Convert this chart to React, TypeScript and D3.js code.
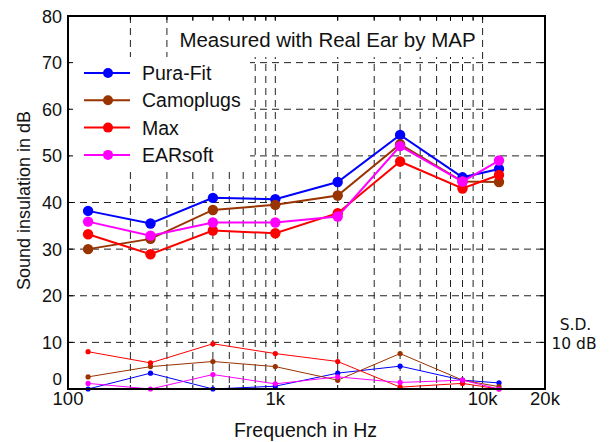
import React from 'react';
import * as d3 from 'd3';

const freqs = [125, 250, 500, 1000, 2000, 4000, 8000, 12000];

const seriesNames = ['Pura-Fit', 'Camoplugs', 'Max', 'EARsoft'];
const seriesColors = ['#0000ff', '#993300', '#ff0000', '#ff00ff'];

const puraFit = [38.2, 35.5, 41.0, 40.7, 44.4, 54.5, 45.4, 47.2];
const camoplugs = [30.0, 32.2, 38.4, 39.5, 41.5, 52.5, 44.5, 44.4];
const maxVals = [33.2, 28.9, 34.0, 33.4, 37.7, 48.8, 43.0, 45.9];
const earsoft = [35.9, 32.9, 35.7, 35.7, 37.0, 52.1, 44.5, 49.0];

// standard deviations
const puraFitSD = [0, 3.4, 0, 0.6, 3.4, 4.9, 1.9, 1.3];
const camoplugsSD = [2.6, 4.8, 5.9, 4.8, 1.9, 7.6, 1.9, 0.5];
const maxSD = [8.0, 5.6, 9.7, 7.6, 5.9, 0.4, 1.2, 0];
const earsoftSD = [1.2, 0, 3.1, 1.1, 2.6, 1.4, 1.9, 0];

const yTicks = [0, 10, 20, 30, 40, 50, 60, 70, 80];
const xTickLabels: [number, string][] = [[100, '100'], [1000, '1k'], [10000, '10k'], [20000, '20k']];
const xGrid = [200, 300, 400, 500, 600, 700, 800, 900, 1000, 2000, 3000, 4000, 5000, 6000, 7000, 8000, 9000, 10000];

const means = [puraFit, camoplugs, maxVals, earsoft];
const sds = [puraFitSD, camoplugsSD, maxSD, earsoftSD];

const W = 609;
const H = 442;
const left = 68, right = 545, top = 16, bottom = 389;
const font = '"Liberation Sans", Arial, sans-serif';
const ink = '#111';

export default function App() {
  const x = d3.scaleLog().domain([100, 20000]).range([left, right]);
  const y = d3.scaleLinear().domain([0, 80]).range([bottom, top]);
  const line = d3.line<number>().x((_, i) => x(freqs[i])).y(d => y(d));

  return (
    <svg width={W} height={H} style={{ position: 'absolute', left: 0, top: 0, background: '#fff' }}>
      <rect x={0} y={0} width={W} height={H} fill="#fff" />
      {/* grid */}
      <g stroke="#222" strokeWidth={1} strokeDasharray="7,5">
        {yTicks.slice(1, -1).map(t => (
          <line key={'h' + t} x1={left} x2={right} y1={y(t)} y2={y(t)} />
        ))}
        {xGrid.map(f => (
          <line key={'v' + f} x1={x(f)} x2={x(f)} y1={top} y2={bottom} />
        ))}
      </g>
      {/* title box */}
      <rect x={172} y={21} width={306} height={36} fill="#fff" />
      <text x={327.5} y={47} textAnchor="middle" fontFamily={font} fontSize={20.5} fill={ink}>
        Measured with Real Ear by MAP
      </text>
      {/* legend box */}
      <rect x={70} y={57} width={180} height={114} fill="#fff" />
      {seriesNames.map((n, i) => {
        const ly = 73 + i * 27.3;
        return (
          <g key={n}>
            <line x1={84} x2={130} y1={ly} y2={ly} stroke={seriesColors[i]} strokeWidth={2} />
            <circle cx={108} cy={ly} r={5} fill={seriesColors[i]} />
            <text x={142} y={ly + 7} fontFamily={font} fontSize={19.5} fill={ink}>{n}</text>
          </g>
        );
      })}
      {/* ticks */}
      <g stroke="#000" strokeWidth={1}>
        {yTicks.map(t => (
          <g key={'yt' + t}>
            <line x1={left} x2={left + 5} y1={y(t)} y2={y(t)} />
            <line x1={right} x2={right - 5} y1={y(t)} y2={y(t)} />
          </g>
        ))}
        {xGrid.map(f => (
          <g key={'xt' + f}>
            <line x1={x(f)} x2={x(f)} y1={bottom} y2={bottom - 4} />
            <line x1={x(f)} x2={x(f)} y1={top} y2={top + 4} />
          </g>
        ))}
      </g>
      {/* SD lines */}
      {sds.map((s, i) => (
        <g key={'sd' + i}>
          <path d={line(s) || ''} fill="none" stroke={seriesColors[i]} strokeWidth={1} />
          {s.map((v, j) => (
            <circle key={j} cx={x(freqs[j])} cy={y(v)} r={2.6} fill={seriesColors[i]} />
          ))}
        </g>
      ))}
      {/* mean lines */}
      {means.map((s, i) => (
        <g key={'m' + i}>
          <path d={line(s) || ''} fill="none" stroke={seriesColors[i]} strokeWidth={2} />
          {s.map((v, j) => (
            <circle key={j} cx={x(freqs[j])} cy={y(v)} r={5.2} fill={seriesColors[i]} />
          ))}
        </g>
      ))}
      {/* frame */}
      <rect x={left} y={top} width={right - left} height={bottom - top} fill="none" stroke="#000" strokeWidth={2} />
      {/* y labels */}
      {yTicks.map(t => (
        <text key={'yl' + t} x={62} y={t === 0 ? 385 : y(t) + 6.5} textAnchor="end" fontFamily={font} fontSize={t === 0 ? 17 : 18} fill={ink}>{t}</text>
      ))}
      {xTickLabels.map(([f, l]) => (
        <text key={'xl' + f} x={x(f)} y={405} textAnchor="middle" fontFamily={font} fontSize={18.5} fill={ink}>{l}</text>
      ))}
      <text x={305.5} y={437} textAnchor="middle" fontFamily={font} fontSize={19.5} fill={ink}>Frequench in Hz</text>
      <text transform={`translate(30,${200.5}) rotate(-90)`} textAnchor="middle" fontFamily={font} fontSize={18} fill={ink}>
        Sound insulation in dB
      </text>
      <text x={575.5} y={330} textAnchor="middle" fontFamily='"DejaVu Sans", sans-serif' fontSize={15.5} fill={ink}>S.D.</text>
      <text x={574} y={349} textAnchor="middle" fontFamily='"DejaVu Sans", sans-serif' fontSize={15.5} fill={ink}>10 dB</text>
    </svg>
  );
}
